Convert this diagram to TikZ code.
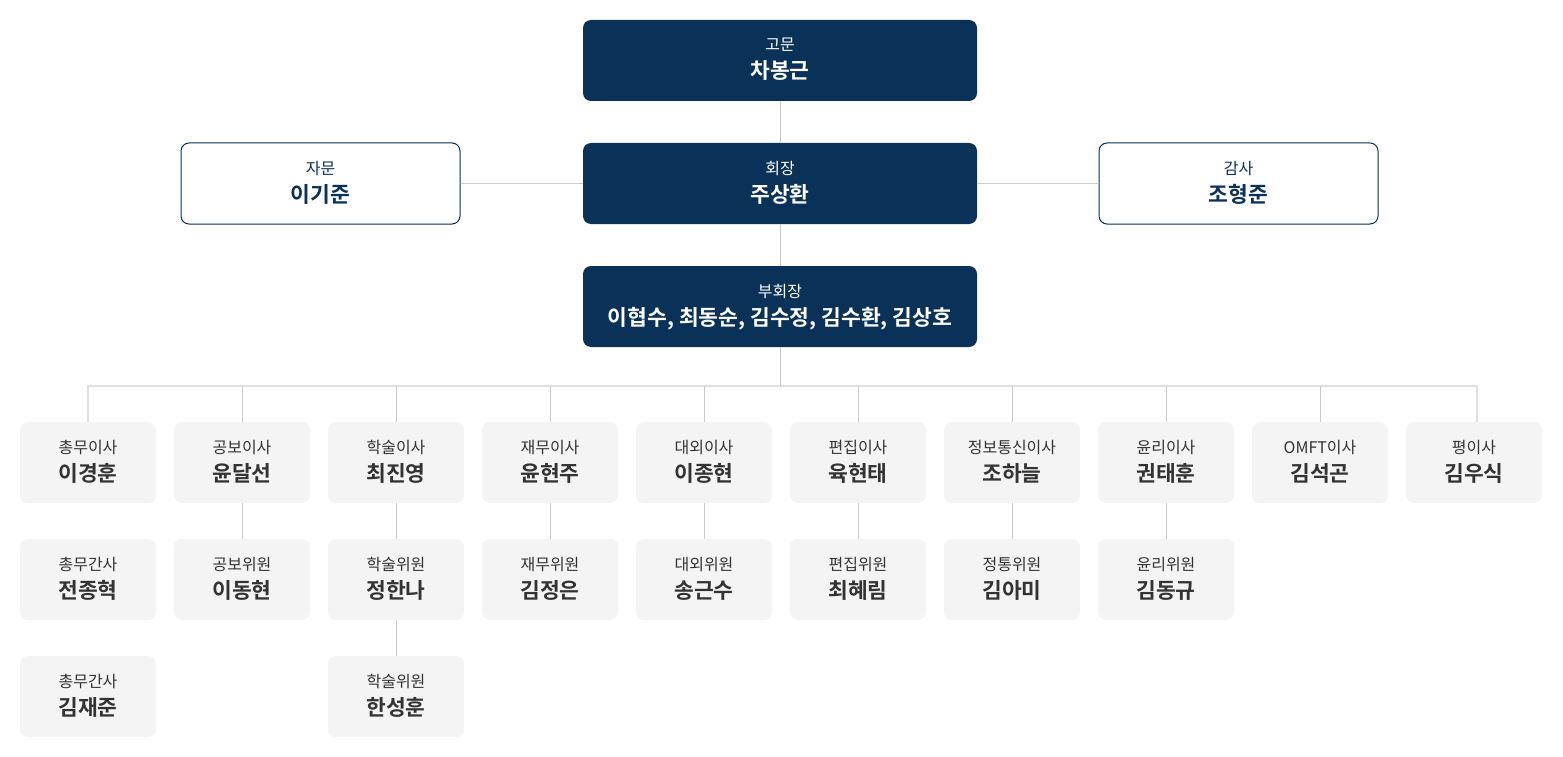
\documentclass[tikz,border=0pt]{standalone}
\usepackage{fontspec}
\setmainfont{Noto Sans CJK KR}[BoldFont={Noto Sans CJK KR Bold}]
\definecolor{navy}{HTML}{0A3158}
\definecolor{boxgray}{HTML}{F4F4F4}
\definecolor{txtgray}{HTML}{333333}
\definecolor{busgray}{HTML}{E0E0E0}
\definecolor{lingray}{HTML}{CCCCCC}
\tikzset{
  darkbox/.style={fill=navy, rounded corners=8pt, minimum width=394pt, minimum height=81pt, inner sep=0pt},
  sidebox/.style={fill=white, draw=navy, line width=1pt, rounded corners=8pt, minimum width=279pt, minimum height=81pt, inner sep=0pt},
  graybox/.style={fill=boxgray, rounded corners=8pt, minimum width=136pt, minimum height=81pt, inner sep=0pt},
  lab/.style={inner sep=0pt, anchor=base, font=\fontsize{16}{16}\selectfont},
  nam/.style={inner sep=0pt, anchor=base, font=\fontsize{21.5}{21.5}\selectfont\bfseries},
  conn/.style={draw=lingray, line width=1pt},
  bus/.style={draw=busgray, line width=2pt},
}
\newcommand\obox[7]{%
  \node[#4] (#1) at (#2,-#3) {};
  \node[lab, text=#7] (#1l) at ([yshift=9.5pt]#1.center) {#5};
  \node[nam, text=#7] (#1n) at ([yshift=-18.5pt]#1.center) {#6};
}
\begin{document}
\begin{tikzpicture}[x=1pt,y=1pt]
\useasboundingbox (0,0) rectangle (1563,-757);
% top
\obox{gomun}{780}{60.5}{darkbox}{고문}{차봉근}{white}
\obox{hoejang}{780}{183.5}{darkbox}{회장}{주상환}{white}
\obox{bu}{780}{306.5}{darkbox}{부회장}{이협수, 최동순, 김수정, 김수환, 김상호}{white}
\obox{jamun}{320.5}{183.5}{sidebox}{자문}{이기준}{navy}
\obox{gamsa}{1238.5}{183.5}{sidebox}{감사}{조형준}{navy}
\draw[conn] (gomun.south) -- (hoejang.north);
\draw[conn] (hoejang.south) -- (bu.north);
\draw[conn] (jamun.east) -- (hoejang.west);
\draw[conn] (hoejang.east) -- (gamsa.west);
% row 1
\obox{a1}{88}{462.5}{graybox}{총무이사}{이경훈}{txtgray}
\obox{b1}{242}{462.5}{graybox}{공보이사}{윤달선}{txtgray}
\obox{c1}{396}{462.5}{graybox}{학술이사}{최진영}{txtgray}
\obox{d1}{550}{462.5}{graybox}{재무이사}{윤현주}{txtgray}
\obox{e1}{704}{462.5}{graybox}{대외이사}{이종현}{txtgray}
\obox{f1}{858}{462.5}{graybox}{편집이사}{육현태}{txtgray}
\obox{g1}{1012}{462.5}{graybox}{정보통신이사}{조하늘}{txtgray}
\obox{h1}{1166}{462.5}{graybox}{윤리이사}{권태훈}{txtgray}
\obox{i1}{1320}{462.5}{graybox}{OMFT이사}{김석곤}{txtgray}
\obox{j1}{1474}{462.5}{graybox}{평이사}{김우식}{txtgray}
% row 2
\obox{a2}{88}{579.5}{graybox}{총무간사}{전종혁}{txtgray}
\obox{b2}{242}{579.5}{graybox}{공보위원}{이동현}{txtgray}
\obox{c2}{396}{579.5}{graybox}{학술위원}{정한나}{txtgray}
\obox{d2}{550}{579.5}{graybox}{재무위원}{김정은}{txtgray}
\obox{e2}{704}{579.5}{graybox}{대외위원}{송근수}{txtgray}
\obox{f2}{858}{579.5}{graybox}{편집위원}{최혜림}{txtgray}
\obox{g2}{1012}{579.5}{graybox}{정통위원}{김아미}{txtgray}
\obox{h2}{1166}{579.5}{graybox}{윤리위원}{김동규}{txtgray}
% row 3
\obox{a3}{88}{696.5}{graybox}{총무간사}{김재준}{txtgray}
\obox{c3}{396}{696.5}{graybox}{학술위원}{한성훈}{txtgray}
% bus
\coordinate (busy) at (0,-385.5);
\coordinate (jtop) at ([xshift=3pt]j1.north);
\draw[bus] (a1.north) -- (a1.north |- busy) -- (jtop |- busy) -- (jtop);
\draw[conn] (bu.south) -- (bu.south |- busy);
\foreach \n in {b1,c1,d1,e1,f1,g1,h1,i1} {
  \draw[conn] (\n.north) -- (\n.north |- busy);
}
\foreach \n in {b,c,d,e,f,g,h} {
  \draw[conn] (\n1.south) -- (\n2.north);
}
\draw[conn] (c2.south) -- (c3.north);
\end{tikzpicture}
\end{document}
